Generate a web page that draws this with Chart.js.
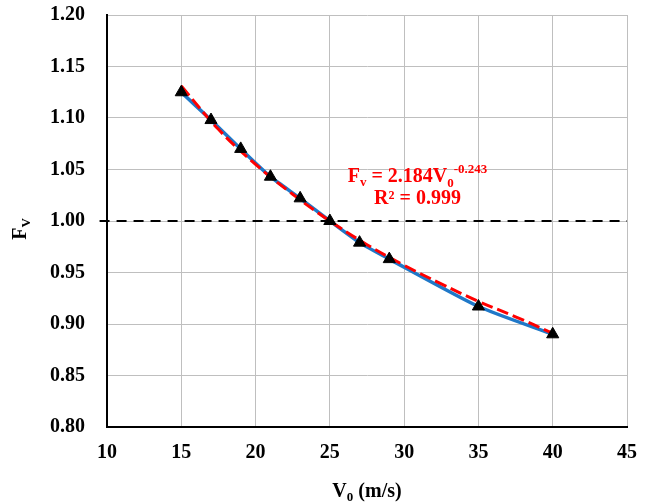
<!DOCTYPE html>
<html>
<head>
<meta charset="utf-8">
<script src="https://cdn.jsdelivr.net/npm/chart.js@4"></script>
<style>
  html, body { margin: 0; padding: 0; background: #fff; }
  #wrap { width: 651px; height: 504px; }
</style>
</head>
<body>
<div id="wrap"><canvas id="chartFv" width="651" height="504"></canvas></div>
<script>
// measured points
const speeds = [15, 17, 19, 21, 23, 25, 27, 29, 35, 40];
const fvValues = [1.125, 1.098, 1.070, 1.043, 1.022, 1.000, 0.979, 0.963, 0.917, 0.890];

// power trend line (red dashed)
const trendSpeeds = [15, 17.5, 20, 22.5, 25, 27.5, 30, 32.5, 35, 37.5, 40];
const trendValues = [1.131, 1.089, 1.055, 1.026, 1.000, 0.977, 0.957, 0.939, 0.922, 0.907, 0.891];

// reference line Fv = 1
const refSpeeds = [9.5, 45];
const refValues = [1.0, 1.0];

const xTicks = [10, 15, 20, 25, 30, 35, 40, 45];
const yTicks = [0.80, 0.85, 0.90, 0.95, 1.00, 1.05, 1.10, 1.15, 1.20];

const FONT = '"Liberation Serif", "Times New Roman", serif';

function toPoints(xs, ys) {
  return xs.map((x, i) => ({ x: x, y: ys[i] }));
}

// draws text pieces with sub/superscripts, centred on x
function drawRich(ctx, parts, x, y) {
  let total = 0;
  parts.forEach((p) => {
    ctx.font = 'bold ' + p.size + 'px ' + FONT;
    p.w = ctx.measureText(p.text).width;
    total += p.w;
  });
  let cx = x - total / 2;
  parts.forEach((p) => {
    ctx.font = 'bold ' + p.size + 'px ' + FONT;
    ctx.fillText(p.text, cx, y + (p.dy || 0));
    cx += p.w;
  });
}

const labelsPlugin = {
  id: 'labelsPlugin',
  afterDraw(chart) {
    const ctx = chart.ctx;
    const xs = chart.scales.x;
    const ys = chart.scales.y;
    ctx.save();
    ctx.textAlign = 'left';
    ctx.textBaseline = 'alphabetic';

    // equation of the fit
    ctx.fillStyle = '#FF0000';
    const ex = xs.getPixelForValue(30.9);
    drawRich(ctx, [
      { text: 'F', size: 20 },
      { text: 'v', size: 13, dy: 4 },
      { text: ' = 2.184V', size: 20 },
      { text: '0', size: 13, dy: 5 },
      { text: '-0.243', size: 13, dy: -9 },
    ], ex, ys.getPixelForValue(1.038));
    drawRich(ctx, [{ text: 'R² = 0.999', size: 20 }], ex, ys.getPixelForValue(1.0165));

    // axis titles
    ctx.fillStyle = '#000';
    const midX = (chart.chartArea.left + chart.chartArea.right) / 2;
    drawRich(ctx, [
      { text: 'V', size: 20 },
      { text: '0', size: 13, dy: 4 },
      { text: ' (m/s)', size: 20 },
    ], midX, 497);

    ctx.translate(26, 229);
    ctx.rotate(-Math.PI / 2);
    drawRich(ctx, [
      { text: 'F', size: 20 },
      { text: 'V', size: 13, dy: 4 },
    ], 0, 0);
    ctx.restore();
  },
};

const ctx = document.getElementById('chartFv').getContext('2d');
new Chart(ctx, {
  type: 'scatter',
  data: {
    datasets: [
      {
        label: 'ref',
        data: toPoints(refSpeeds, refValues),
        showLine: true,
        borderColor: '#000',
        borderWidth: 2,
        borderDash: [10, 7],
        pointRadius: 0,
        clip: false,
        order: 4,
      },
      {
        label: 'Fv',
        data: toPoints(speeds, fvValues),
        showLine: true,
        borderColor: '#1F78C8',
        borderWidth: 3.5,
        tension: 0.2,
        pointRadius: 0,
        order: 3,
      },
      {
        label: 'trend',
        data: toPoints(trendSpeeds, trendValues),
        showLine: true,
        borderColor: '#FF0000',
        borderWidth: 3,
        borderDash: [12, 5],
        tension: 0.4,
        pointRadius: 0,
        order: 2,
      },
      {
        label: 'points',
        data: toPoints(speeds, fvValues),
        showLine: false,
        pointStyle: 'triangle',
        pointRadius: 7,
        backgroundColor: '#000',
        borderColor: '#000',
        borderWidth: 1,
        order: 1,
      },
    ],
  },
  options: {
    responsive: false,
    animation: false,
    layout: { padding: 0 },
    plugins: {
      legend: { display: false },
      tooltip: { enabled: false },
    },
    scales: {
      x: {
        type: 'linear',
        min: 10,
        max: 45,
        afterBuildTicks: (scale) => { scale.ticks = xTicks.map((v) => ({ value: v })); },
        afterFit: (scale) => {
          scale.height = 77;
          scale.paddingLeft = 0;
          scale.paddingRight = 24;
        },
        grid: { color: '#BFBFBF', lineWidth: 1, drawTicks: false },
        border: { color: '#000', width: 2 },
        ticks: {
          padding: 14,
          color: '#000',
          font: { family: FONT, size: 20, weight: 'bold' },
        },
      },
      y: {
        type: 'linear',
        min: 0.8,
        max: 1.2,
        afterBuildTicks: (scale) => { scale.ticks = yTicks.map((v) => ({ value: v })); },
        afterFit: (scale) => {
          scale.width = 107;
          scale.paddingTop = 15;
          scale.paddingBottom = 0;
        },
        grid: { color: '#BFBFBF', lineWidth: 1, drawTicks: false },
        border: { color: '#000', width: 2 },
        ticks: {
          padding: 22,
          color: '#000',
          font: { family: FONT, size: 20, weight: 'bold' },
          callback: (v) => v.toFixed(2),
        },
      },
    },
  },
  plugins: [labelsPlugin],
});
</script>
</body>
</html>
